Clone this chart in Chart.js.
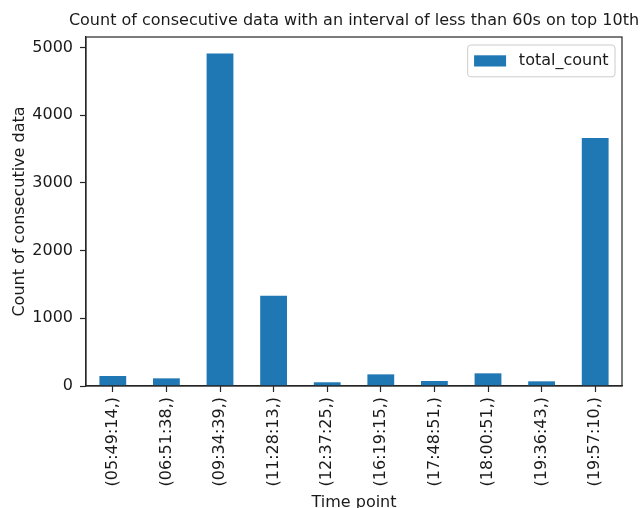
<!DOCTYPE html>
<html><head><meta charset="utf-8">
<script src="https://cdn.jsdelivr.net/npm/chart.js@4.4.0/dist/chart.umd.min.js"></script>
<style>html,body{margin:0;padding:0;background:#fff;overflow:hidden}canvas{display:block}</style>
</head><body>
<canvas id="c" width="643" height="508"></canvas>
<script>
const categories = ['(05:49:14,)', '(06:51:38,)', '(09:34:39,)', '(11:28:13,)', '(12:37:25,)',
                    '(16:19:15,)', '(17:48:51,)', '(18:00:51,)', '(19:36:43,)', '(19:57:10,)'];
const totalCount = [148, 113, 4910, 1332, 55, 172, 74, 187, 69, 3665];
const yTicks = [0, 1000, 2000, 3000, 4000, 5000];
const seriesLabel = 'total_count';
const chartTitle = 'Count of consecutive data with an interval of less than 60s on top 10th';
const xTitle = 'Time point';
const yTitle = 'Count of consecutive data';

const yMax = Math.max(...totalCount) * 1.05;
const FONT = "'DejaVu Sans', sans-serif";
const FS = 16;
const TEXT = '#1a1a1a';
const SPINE = '#262626';
const BAR = '#1f77b4';

function roundRect(ctx, x, y, w, h, r) {
  ctx.beginPath();
  ctx.moveTo(x + r, y);
  ctx.lineTo(x + w - r, y); ctx.quadraticCurveTo(x + w, y, x + w, y + r);
  ctx.lineTo(x + w, y + h - r); ctx.quadraticCurveTo(x + w, y + h, x + w - r, y + h);
  ctx.lineTo(x + r, y + h); ctx.quadraticCurveTo(x, y + h, x, y + h - r);
  ctx.lineTo(x, y + r); ctx.quadraticCurveTo(x, y, x + r, y);
  ctx.closePath();
}

const framePlugin = {
  id: 'frame',
  afterDraw(chart) {
    const {ctx, chartArea: a} = chart;
    ctx.save();
    ctx.strokeStyle = SPINE; ctx.lineWidth = 1.2;
    ctx.strokeRect(a.left, a.top, a.right - a.left, a.bottom - a.top);
    // title
    ctx.fillStyle = TEXT;
    ctx.font = FS + 'px ' + FONT;
    ctx.textAlign = 'center'; ctx.textBaseline = 'alphabetic';
    ctx.fillText(chartTitle, (a.left + a.right) / 2, a.top - 12);
    // legend (upper right, inside axes)
    const ds = chart.data.datasets[0];
    const tw = ctx.measureText(ds.label).width;
    const pad = 0.4 * FS, hl = 2 * FS, htp = 0.8 * FS;
    const bw = 2 * pad + hl + htp + tw;
    const bh = 2 * pad + 1.0 * FS + 3;
    const bx = a.right - 0.5 * FS + 1 - bw;
    const by = a.top + 0.5 * FS;
    roundRect(ctx, bx, by, bw, bh, 3);
    ctx.fillStyle = 'rgba(255,255,255,0.8)'; ctx.fill();
    ctx.strokeStyle = '#cccccc'; ctx.lineWidth = 1; ctx.stroke();
    const cy = by + bh / 2;
    ctx.fillStyle = ds.backgroundColor;
    ctx.fillRect(bx + pad, cy - 0.35 * FS, hl, 0.7 * FS);
    ctx.fillStyle = TEXT;
    ctx.textAlign = 'left'; ctx.textBaseline = 'middle';
    ctx.fillText(ds.label, bx + pad + hl + htp, cy);
    ctx.restore();
  }
};

const tickFont = {family: FONT, size: FS};
new Chart(document.getElementById('c'), {
  type: 'bar',
  data: {
    labels: categories,
    datasets: [{label: seriesLabel, data: totalCount, backgroundColor: BAR, borderWidth: 0,
                categoryPercentage: 1.0, barPercentage: 0.5}]
  },
  options: {
    responsive: false, animation: false, devicePixelRatio: 1,
    layout: {padding: {left: 0, right: 21, top: 37, bottom: 0}},
    plugins: {legend: {display: false}, title: {display: false}, tooltip: {enabled: false}},
    scales: {
      x: {
        grid: {display: true, offset: false, drawOnChartArea: false, drawTicks: true, tickLength: 6, tickColor: SPINE, tickWidth: 1.2},
        border: {display: true, color: SPINE, width: 1.2},
        ticks: {autoSkip: false, maxRotation: 90, minRotation: 90, padding: 5, color: TEXT, font: tickFont},
        title: {display: true, text: xTitle, color: TEXT, font: tickFont, padding: {top: 0, bottom: -4}},
        afterFit(s) { s.height = 122; }
      },
      y: {
        min: 0, max: yMax,
        afterBuildTicks(s) { s.ticks = yTicks.map(v => ({value: v})); },
        grid: {display: true, drawOnChartArea: false, drawTicks: true, tickLength: 6, tickColor: SPINE, tickWidth: 1.2},
        border: {display: true, color: SPINE, width: 1.2},
        ticks: {padding: 7, color: TEXT, font: tickFont, callback: v => String(v)},
        title: {display: true, text: yTitle, color: TEXT, font: tickFont, padding: {top: 10, bottom: 0}},
        afterFit(s) { s.width = 86; }
      }
    }
  },
  plugins: [framePlugin]
});
</script>
</body></html>
